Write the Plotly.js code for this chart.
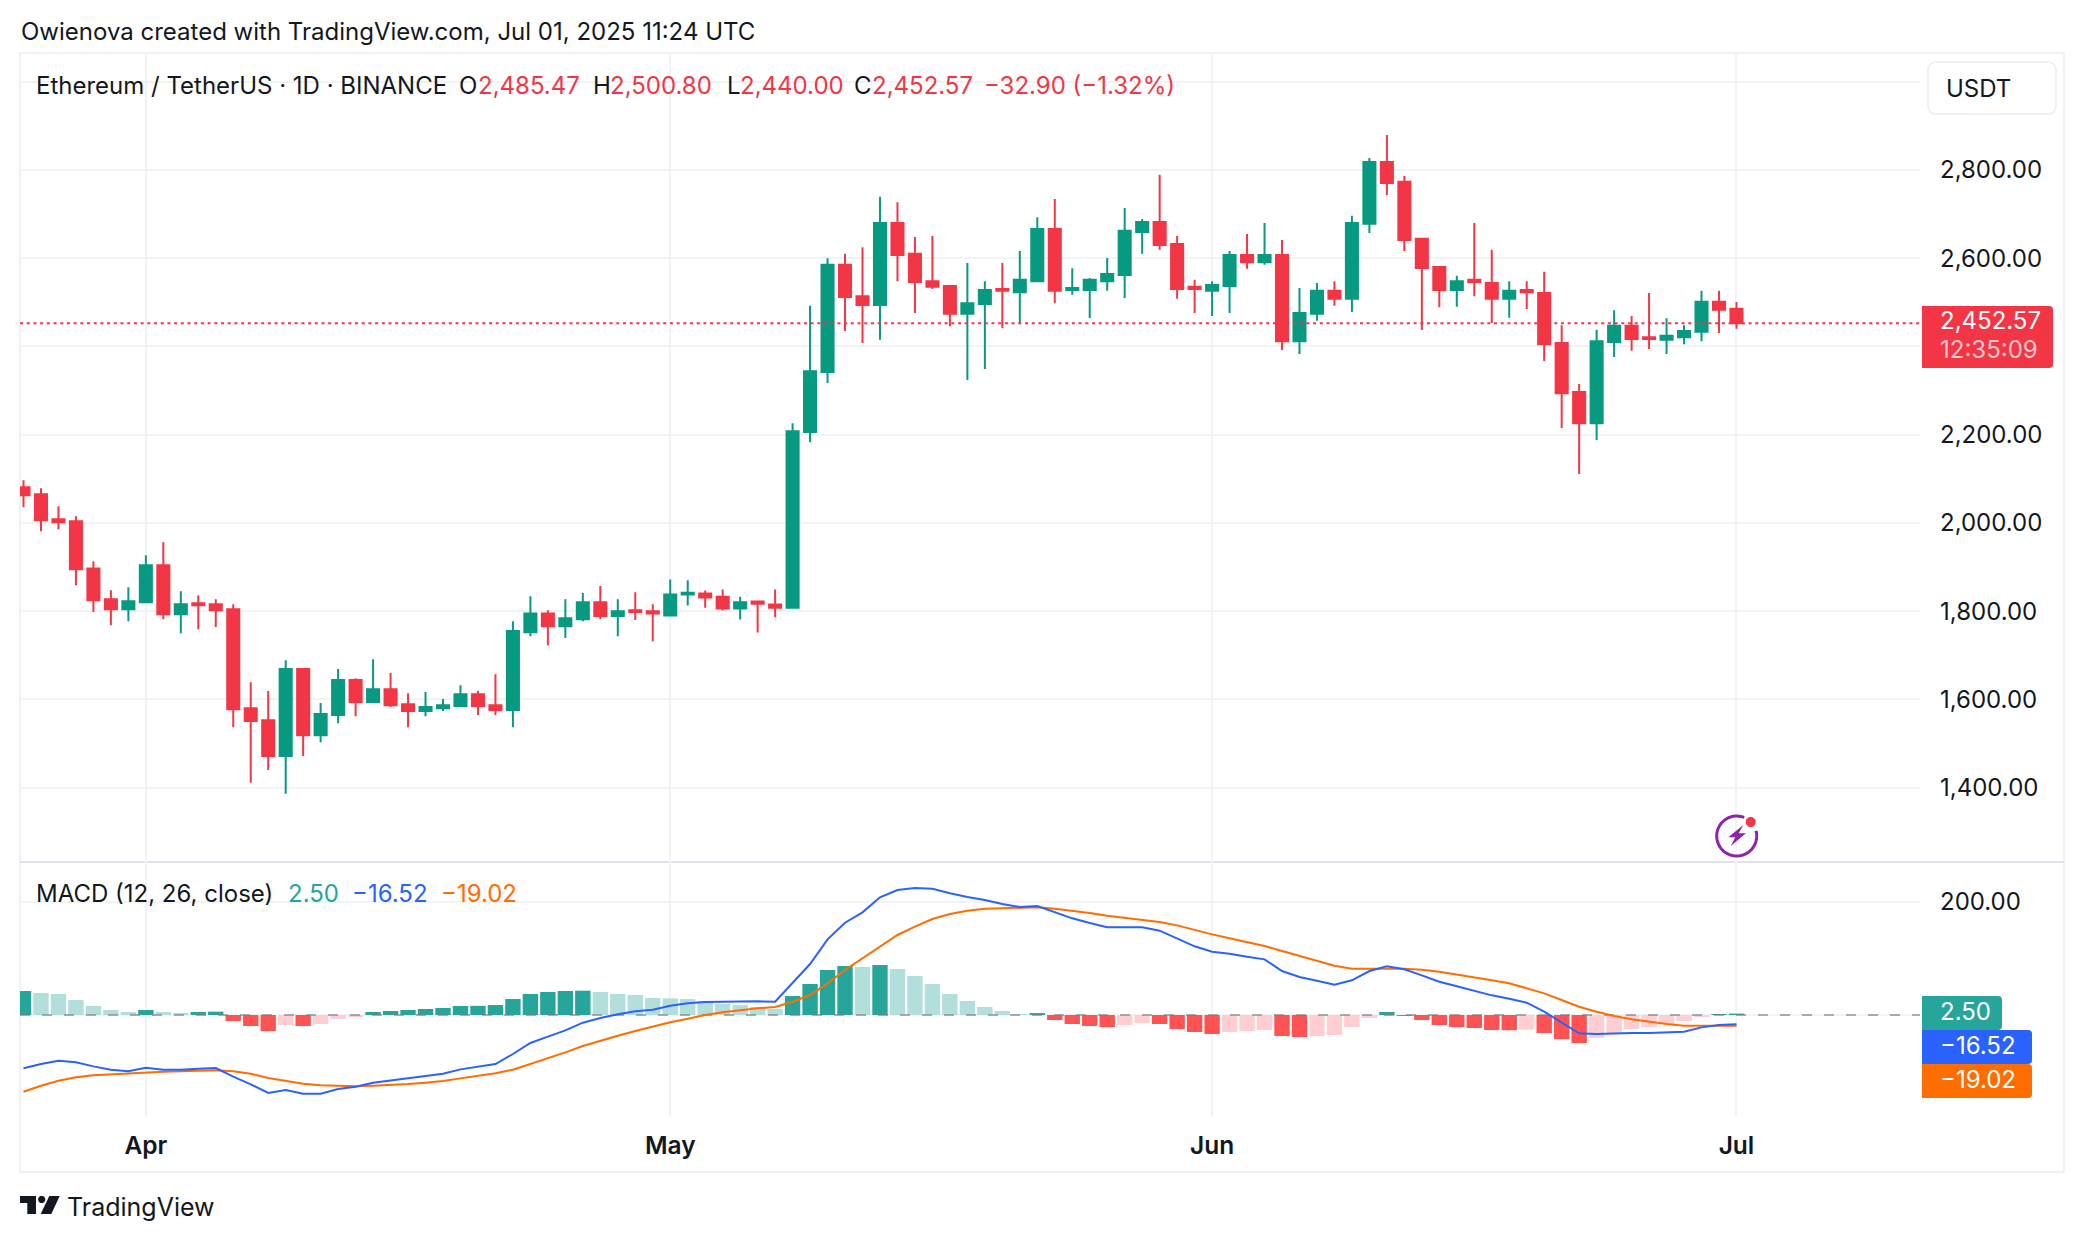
<!DOCTYPE html>
<html>
<head>
<meta charset="utf-8">
<script src="https://cdn.plot.ly/plotly-3.0.1.min.js"></script>
<style>html,body{margin:0;padding:0;background:#fff}#chart{width:2084px;height:1242px}</style>
</head>
<body>
<div id="chart"></div>
<script>
const dates = [
'2025-03-25','2025-03-26','2025-03-27','2025-03-28','2025-03-29','2025-03-30','2025-03-31',
'2025-04-01','2025-04-02','2025-04-03','2025-04-04','2025-04-05','2025-04-06','2025-04-07','2025-04-08','2025-04-09','2025-04-10',
'2025-04-11','2025-04-12','2025-04-13','2025-04-14','2025-04-15','2025-04-16','2025-04-17','2025-04-18','2025-04-19','2025-04-20',
'2025-04-21','2025-04-22','2025-04-23','2025-04-24','2025-04-25','2025-04-26','2025-04-27','2025-04-28','2025-04-29','2025-04-30',
'2025-05-01','2025-05-02','2025-05-03','2025-05-04','2025-05-05','2025-05-06','2025-05-07','2025-05-08','2025-05-09','2025-05-10',
'2025-05-11','2025-05-12','2025-05-13','2025-05-14','2025-05-15','2025-05-16','2025-05-17','2025-05-18','2025-05-19','2025-05-20',
'2025-05-21','2025-05-22','2025-05-23','2025-05-24','2025-05-25','2025-05-26','2025-05-27','2025-05-28','2025-05-29','2025-05-30','2025-05-31',
'2025-06-01','2025-06-02','2025-06-03','2025-06-04','2025-06-05','2025-06-06','2025-06-07','2025-06-08','2025-06-09','2025-06-10',
'2025-06-11','2025-06-12','2025-06-13','2025-06-14','2025-06-15','2025-06-16','2025-06-17','2025-06-18','2025-06-19','2025-06-20',
'2025-06-21','2025-06-22','2025-06-23','2025-06-24','2025-06-25','2025-06-26','2025-06-27','2025-06-28','2025-06-29','2025-06-30','2025-07-01'];

const opens = [
2080.8,2064.9,2008.3,2003.8,1897,1827,1804.5,
1820,1904,1793,1818,1816,1804.5,1580,1553,1472,1669,
1519,1565,1644,1594,1623,1589,1574,1580,1585,1612,
1587,1576,1752,1795,1766,1782,1820,1789,1802,1800,
1790,1838,1840,1833,1806,1822,1815,1808,2206,2342,
2585,2514,2494,2680,2610,2548,2537,2474,2496,2530,
2523,2548,2666,2528,2528,2548,2562,2659.5,2682,2632,2535,
2526,2537,2607,2591,2607,2412,2474,2526,2508,2678,
2818,2773,2644,2580,2528,2551,2544,2508,2528,2521,
2408,2297,2226,2410,2447,2421,2415,2421,2433,2501,2485.47];

const highs = [
2096.6,2078.5,2037.7,2015,1913,1847.5,1854,
1927,1956,1845,1836,1827,1816,1639,1619,1689,1669,
1592,1669,1648,1691,1660,1614,1617,1601,1632,1619,
1657,1777,1834,1802,1827,1841,1857,1827,1843,1816,
1872,1870,1847,1849,1833,1822,1849,2226,2492,2600,
2610,2625,2739,2727,2648,2650,2539,2589,2548,2589,
2616,2693,2734,2577,2555,2600.5,2714,2689,2789,2650,2551,
2548,2616,2655,2680,2641,2532.5,2544,2548,2696,2827,
2879,2786,2646,2580,2560,2680,2619,2548,2548,2569,
2448,2315,2438,2482,2469,2521,2464,2448,2526,2526,2500.8];

const lows = [
2035.5,1981,1985.7,1859,1798,1768,1777,
1818,1782,1750,1759,1764,1537,1411,1440,1386,1472,
1503,1546,1562,1594,1583,1537,1562,1574,1585,1565,
1565,1537,1743,1723,1739,1777,1782,1743,1780,1732,
1790,1813,1808,1801.5,1781,1751.5,1786,1808,2183,2317,
2435,2408,2415,2548,2476,2530,2446,2324,2349,2442,
2453,2546,2498,2517,2464.5,2526,2510,2610,2619,2508,2476,
2469,2476,2576,2585,2392,2383,2458,2492,2478,2657,
2743,2616,2437,2489,2490,2514,2453,2465,2485,2367,
2215,2111,2188,2376,2390,2394,2383,2405,2412,2430.5,2440];

const closes = [
2062.6,2006,2001.5,1895,1825,1804.5,1822.6,
1904,1793,1816,1813.6,1802,1578,1551,1472,1669,1519,
1567,1644,1594,1623,1587,1574,1583,1587,1612,1585,
1576,1755,1795,1766,1784,1820,1789,1800,1798,1795,
1838,1842,1831,1806,1820,1817,1808,2208,2344,2585,
2512,2494,2680,2607,2546,2535,2474,2498,2528,2526,
2551,2666,2526,2532.5,2551,2564,2662,2682,2630,2530,2530,
2539,2607,2591,2607,2412,2476,2526,2508,2680,2818,
2770.5,2641,2578,2528,2548,2546,2508,2526,2523,2405,
2294,2226,2412,2447,2417,2417,2424,2435,2501,2483,2452.57];

const macdLine = [
-94.1,-86.5,-80.6,-83.5,-90.6,-96.5,-99.4,
-92.9,-96.5,-96.5,-94.7,-93.5,-108.8,-122.3,-137.6,-132.3,-138.8,
-138.8,-130.6,-126.5,-119.4,-115.3,-112.3,-108.2,-103.5,-95.9,-90.6,
-86.5,-68.8,-49.4,-38.2,-27.1,-13.5,-5.3,1.2,6.5,9.4,
16.5,20.6,22.9,23.5,24.1,24.1,23.5,55.9,90,133.5,
162.9,181.2,207.6,220.6,224.1,222.9,214.7,208.2,202.9,195.9,
190.6,192.3,181.2,170.6,162.3,154.7,154.7,154.7,148.8,134.7,121.2,
111.8,108.2,102.9,98.2,77.6,67.1,60.6,53.5,61.2,77.6,
85.9,80.6,70,58.8,50.6,42.9,34.7,28.8,21.8,5.9,
-12.9,-32.4,-33.5,-32.4,-31.8,-31.8,-31.2,-29.4,-21.8,-17.6,-16.52];

const signalLine = [
-135.3,-124.7,-115.9,-110,-106.5,-104.7,-102.9,
-101.2,-100,-99.4,-98.2,-97.6,-99.4,-103.5,-111.2,-116.5,-121.2,
-124.1,-125.3,-125.9,-124.7,-123.5,-121.8,-119.4,-116.5,-111.8,-107.1,
-102.9,-96.5,-86.5,-76.5,-65.9,-54.7,-45.3,-36.5,-28.2,-20,
-12.9,-6.5,0,4.7,8.8,11.8,14.1,23.5,35.3,55.9,
79.4,100,121.8,141.2,155.9,169.4,178.2,184.1,187.6,188.8,
189.4,190,187.6,184.1,180,175.3,171.2,168.2,164.1,158.2,150,
142.3,135.3,128.8,121.8,112.9,104.1,95.3,87.1,81.8,81.2,
81.8,81.8,80,76.5,71.8,66.5,61.2,55.9,46.5,38.2,
26.5,14.7,5.9,-1.8,-7.6,-12.4,-15.9,-18.8,-19.4,-18.8,-19.02];

const histogram = [
42.4,38.8,37.1,26.5,15.9,8.8,5.3,
8.8,5.3,3.5,5.3,5.9,-10.6,-19.4,-28.2,-17.6,-19.4,
-15.9,-7.1,-3.5,5.3,7.1,8.8,10.6,12.4,15.9,16.2,
17.6,28.2,37.1,40.6,42.4,42.9,40.6,37.1,35.3,30,
29.4,28.2,24.7,19.4,17.6,14.1,10.6,33.5,54.7,79.4,
86.5,84.7,88.2,81.2,68.8,54.7,37.1,24.7,14.1,7.1,
1.8,3.5,-8.8,-15.9,-19.4,-21.2,-17.6,-14.1,-15.9,-24.7,-30,
-33.5,-30,-28.2,-26.5,-37.1,-38.8,-37.1,-35.3,-21.2,-5.3,
5.3,-1.8,-8.8,-17.6,-21.2,-22.9,-26.5,-26.8,-25.9,-31.8,
-42.4,-49.4,-40.6,-31.8,-24.7,-21.2,-15.9,-10.6,-3.5,1.8,2.5];

const monthTicks = ['2025-04-01','2025-05-01','2025-06-01','2025-07-01'];
const monthLabels = ['Apr','May','Jun','Jul'];
const priceTicks = [1400,1600,1800,2000,2200,2400,2600,2800,3000];
const priceLabels = ['1,400.00','1,600.00','1,800.00','2,000.00','2,200.00','','2,600.00','2,800.00',''];
const macdTicks = [0,200];
const macdLabels = ['','200.00'];

const xRange = ['2025-03-24 19:12','2025-07-11 12:00'];
const FONT = 'Inter, "Noto Sans", sans-serif';
const INK = '#131722', UP = '#089981', DOWN = '#F23645', GRID = '#F2F3F5', EDGE = '#EFF1F5';
const BLUE = '#2962FF', ORANGE = '#FF6D00', TEAL = '#26A69A';

const W = 2084, H = 1242, L = 20, R = 1920, T = 53, B = 1116, SPLIT = 862;
const px = x => (x - L) / (R - L);
const py = y => (B - y) / (B - T);
const pt = (x, y) => px(x) + ' ' + py(y);
const split = py(SPLIT);

const last = closes.length - 1;
const fmt = v => Math.abs(v).toLocaleString('en-US', {minimumFractionDigits: 2, maximumFractionDigits: 2});
const signed = v => (v < 0 ? '\u2212' : '') + fmt(v);

const histColors = histogram.map((v, i) => {
  const prev = i ? histogram[i - 1] : v;
  if (v >= 0) return v >= prev ? '#26A69A' : '#B2DFDB';
  return v <= prev ? '#FF5252' : '#FFCDD2';
});

const traces = [
  {type: 'candlestick', x: dates, open: opens, high: highs, low: lows, close: closes, xaxis: 'x2', yaxis: 'y',
   increasing: {line: {color: UP, width: 2}, fillcolor: UP},
   decreasing: {line: {color: DOWN, width: 2}, fillcolor: DOWN},
   whiskerwidth: 0, hoverinfo: 'skip', showlegend: false},
  {type: 'scatter', mode: 'lines', x: xRange, y: [closes[last], closes[last]], xaxis: 'x2', yaxis: 'y',
   line: {color: DOWN, width: 2, dash: '3px,3.7px'}, hoverinfo: 'skip', showlegend: false},
  {type: 'bar', x: dates, y: histogram, xaxis: 'x', yaxis: 'y2', marker: {color: histColors, line: {width: 0}},
   hoverinfo: 'skip', showlegend: false},
  {type: 'scatter', mode: 'lines', x: xRange, y: [0, 0], xaxis: 'x', yaxis: 'y2',
   line: {color: 'rgba(120,123,134,0.6)', width: 2, dash: '10px,12px'}, hoverinfo: 'skip', showlegend: false},
  {type: 'scatter', mode: 'lines', x: dates, y: signalLine, xaxis: 'x', yaxis: 'y2',
   line: {color: ORANGE, width: 2}, hoverinfo: 'skip', showlegend: false},
  {type: 'scatter', mode: 'lines', x: dates, y: macdLine, xaxis: 'x', yaxis: 'y2',
   line: {color: BLUE, width: 2}, hoverinfo: 'skip', showlegend: false}
];

function hline(y, x0, x1, color, w) {
  return {type: 'line', xref: 'paper', yref: 'paper', x0: px(x0), x1: px(x1), y0: py(y), y1: py(y), line: {color: color, width: w}, layer: 'below'};
}
function vline(x, y0, y1, color, w) {
  return {type: 'line', xref: 'paper', yref: 'paper', x0: px(x), x1: px(x), y0: py(y0), y1: py(y1), line: {color: color, width: w}, layer: 'below'};
}
function tagPath(x0, y0, x1, y1, r) {
  return 'M' + pt(x0, y0) + ' L' + pt(x1 - r, y0) + ' Q' + pt(x1, y0) + ' ' + pt(x1, y0 + r) +
    ' L' + pt(x1, y1 - r) + ' Q' + pt(x1, y1) + ' ' + pt(x1 - r, y1) + ' L' + pt(x0, y1) + ' Z';
}
function roundPath(x0, y0, x1, y1, r) {
  return 'M' + pt(x0 + r, y0) + ' L' + pt(x1 - r, y0) + ' Q' + pt(x1, y0) + ' ' + pt(x1, y0 + r) +
    ' L' + pt(x1, y1 - r) + ' Q' + pt(x1, y1) + ' ' + pt(x1 - r, y1) + ' L' + pt(x0 + r, y1) +
    ' Q' + pt(x0, y1) + ' ' + pt(x0, y1 - r) + ' L' + pt(x0, y0 + r) + ' Q' + pt(x0, y0) + ' ' + pt(x0 + r, y0) + ' Z';
}
function filled(path, color, line) {
  return {type: 'path', xref: 'paper', yref: 'paper', path: path, fillcolor: color, line: line || {width: 0}, layer: 'above'};
}
function poly(points) {
  return 'M' + points.map(p => pt(p[0], p[1])).join(' L') + ' Z';
}
function circlePath(cx, cy, r) {
  let d = '';
  for (let i = 0; i <= 40; i++) {
    const a = i / 40 * 2 * Math.PI;
    d += (i ? ' L' : 'M') + pt(cx + r * Math.cos(a), cy + r * Math.sin(a));
  }
  return d + ' Z';
}
function arcPath(cx, cy, r, a0, a1) {
  let d = '';
  for (let i = 0; i <= 60; i++) {
    const a = (a0 + (a1 - a0) * i / 60) * Math.PI / 180;
    d += (i ? ' L' : 'M') + pt(cx + r * Math.cos(a), cy + r * Math.sin(a));
  }
  return d;
}

const shapes = [
  hline(T, L, 2064, EDGE, 2),
  hline(1172, L, 2064, EDGE, 2),
  vline(L, T, 1172, EDGE, 2),
  vline(2064, T, 1172, EDGE, 2),
  hline(SPLIT, L, 2064, '#E0E3EB', 2),
  filled(roundPath(1928, 62, 2056, 114, 9), '#FFFFFF', {color: EDGE, width: 2}),
  filled(tagPath(1922, 306, 2053, 368, 4), DOWN),
  filled(tagPath(1922, 996, 2002, 1030, 4), TEAL),
  filled(tagPath(1922, 1030, 2032, 1064, 4), BLUE),
  filled(tagPath(1922, 1064, 2032, 1098, 4), ORANGE),
  filled(poly([[20, 1196], [36, 1196], [36, 1214], [27.3, 1214], [27.3, 1203], [20, 1203]]), '#131722'),
  filled(circlePath(41.7, 1199.5, 3.6), '#131722'),
  filled(poly([[49.3, 1196], [59.7, 1196], [51.3, 1214], [40.7, 1214]]), '#131722'),
  {type: 'path', xref: 'paper', yref: 'paper', path: arcPath(1736.7, 836, 20, -68, -375), line: {color: '#8E24AA', width: 3}, layer: 'above'},
  filled(poly([[1743.3, 825], [1728.3, 837.3], [1735.3, 837.3], [1730.7, 846], [1746, 833.3], [1738.7, 833.3]]), '#8E24AA'),
  filled(circlePath(1750.7, 822, 5), DOWN)
];

function label(text, x, y, color, size, extra) {
  return Object.assign({text: text, xref: 'paper', yref: 'paper', x: px(x), y: py(y), xanchor: 'left', yanchor: 'middle',
    showarrow: false, align: 'left', borderpad: 0, font: {family: FONT, size: size || 24, color: color || INK}}, extra || {});
}

const annotations = [
  label('Owienova created with TradingView.com, Jul 01, 2025 11:24 UTC', 20, 31),
  label('Ethereum / TetherUS \u00b7 1D \u00b7 BINANCE', 35, 85),
  label('O', 458, 85), label(fmt(opens[last]), 477, 85, DOWN),
  label('H', 592, 85), label(fmt(highs[last]), 609, 85, DOWN),
  label('L', 726, 85), label(fmt(lows[last]), 739, 85, DOWN),
  label('C', 853, 85), label(fmt(closes[last]), 871, 85, DOWN),
  label('\u221232.90 (\u22121.32%)', 983, 85, DOWN),
  label('USDT', 1945, 88),
  label(fmt(closes[last]), 1939, 320.5, '#FFFFFF'),
  label('12:35:09', 1939, 349, 'rgba(255,255,255,0.72)'),
  label('MACD (12, 26, close)', 35, 893),
  label(signed(histogram[last]), 287, 893, TEAL),
  label(signed(macdLine[last]), 351, 893, BLUE),
  label(signed(signalLine[last]), 440, 893, ORANGE),
  label(signed(histogram[last]), 1939, 1011.5, '#FFFFFF'),
  label(signed(macdLine[last]), 1939, 1045.5, '#FFFFFF'),
  label(signed(signalLine[last]), 1939, 1079.5, '#FFFFFF'),
  label('TradingView', 66, 1207, INK, 25)
];

const baseX = {type: 'date', range: xRange, tickmode: 'array', tickvals: monthTicks, showgrid: true, gridcolor: GRID, gridwidth: 2,
  zeroline: false, showline: false, ticks: '', rangeslider: {visible: false}, fixedrange: true};
const layout = {
  width: W, height: H, paper_bgcolor: '#FFFFFF', plot_bgcolor: '#FFFFFF',
  margin: {l: L, r: W - R, t: T, b: H - B, pad: 0},
  font: {family: FONT, color: INK},
  showlegend: false, hovermode: false, dragmode: false,
  boxgap: 0.31, boxgroupgap: 0, bargap: 0.12,
  xaxis: Object.assign({}, baseX, {anchor: 'y2', domain: [0, 1], ticktext: monthLabels, ticklabelstandoff: 12,
    tickfont: {family: FONT, size: 24.5, color: INK, weight: 600}}),
  xaxis2: Object.assign({}, baseX, {anchor: 'y', domain: [0, 1], matches: 'x', showticklabels: false, ticktext: monthLabels}),
  yaxis: {domain: [split, 1], anchor: 'x2', side: 'right', range: [1231.6, 3065], tickmode: 'array', tickvals: priceTicks, ticktext: priceLabels,
    showgrid: true, gridcolor: GRID, gridwidth: 2, zeroline: false, showline: false, ticks: '', ticklabelstandoff: 19, ticklabelshift: -1.5,
    tickfont: {family: FONT, size: 24, color: INK}, fixedrange: true},
  yaxis2: {domain: [0, split], anchor: 'x', side: 'right', range: [-178.2, 270], tickmode: 'array', tickvals: macdTicks, ticktext: macdLabels,
    showgrid: true, gridcolor: GRID, gridwidth: 2, zeroline: false, showline: false, ticks: '', ticklabelstandoff: 19, ticklabelshift: -1.5,
    tickfont: {family: FONT, size: 24, color: INK}, fixedrange: true},
  shapes: shapes, annotations: annotations
};

Plotly.newPlot('chart', traces, layout, {displayModeBar: false, responsive: false, staticPlot: true});
</script>
</body>
</html>
